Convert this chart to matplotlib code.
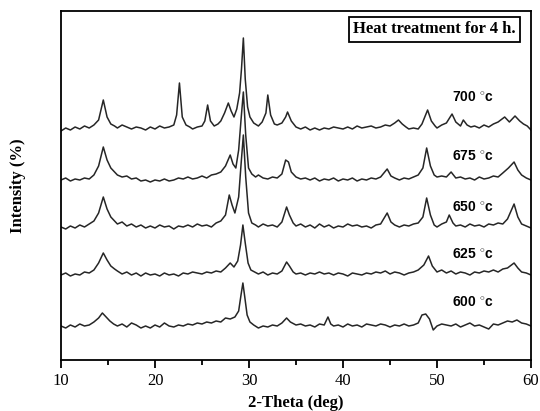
import matplotlib
matplotlib.use('Agg')
import matplotlib.pyplot as plt
from matplotlib.ticker import MultipleLocator

# 2-theta positions (deg) and intensity above each trace's own baseline (a.u.)
x_600 = [10.0, 10.5, 11.0, 11.5, 12.0, 12.5, 13.0, 13.5, 14.0, 14.4, 14.8, 15.2, 15.6, 16.0, 16.5, 17.0,
         17.5, 18.0, 18.5, 19.0, 19.5, 20.0, 20.5, 21.0, 21.5, 22.0, 22.5, 23.0, 23.5, 24.0, 24.5, 25.0,
         25.5, 26.0, 26.5, 27.0, 27.5, 28.0, 28.5, 28.9, 29.15, 29.35, 29.55, 29.8, 30.1, 30.5, 31.0,
         31.5, 32.0, 32.5, 33.0, 33.5, 34.0, 34.4, 35.0, 35.5, 36.0, 36.5, 37.0, 37.5, 38.0, 38.4, 38.7,
         39.0, 39.5, 40.0, 40.5, 41.0, 41.5, 42.0, 42.5, 43.0, 43.5, 44.0, 44.5, 45.0, 45.5, 46.0, 46.5,
         47.0, 47.5, 48.0, 48.4, 48.8, 49.2, 49.6, 50.0, 50.5, 51.0, 51.5, 52.0, 52.5, 53.0, 53.5, 54.0,
         54.5, 55.0, 55.5, 56.0, 56.5, 57.0, 57.5, 58.0, 58.5, 59.0, 59.5, 60.0]
i_600 = [1, -1, 2, 0, 3, 1, 2, 5, 9, 14, 10, 6, 3, 1, 3, 0,
         4, 2, -1, 1, -1, 2, 0, 4, 1, 0, 2, 1, 3, 2, 4, 3,
         5, 4, 6, 5, 9, 8, 10, 16, 32, 44, 30, 12, 5, 2, -1,
         1, 0, 2, 1, 4, 9, 5, 2, 3, 1, 2, 0, 3, 2, 10, 3,
         1, 2, 0, 3, 1, 2, 0, 3, 2, 1, 3, 2, 0, 2, 1, 3,
         1, 2, 4, 12, 13, 8, -3, 1, 3, 2, 1, 3, 0, 2, 4, 1,
         2, 0, -2, 3, 2, 4, 6, 5, 7, 4, 3, 1]

x_625 = [10.0, 10.5, 11.0, 11.5, 12.0, 12.5, 13.0, 13.5, 14.0, 14.5, 14.9, 15.3, 15.7, 16.0, 16.5, 17.0,
         17.5, 18.0, 18.5, 19.0, 19.5, 20.0, 20.5, 21.0, 21.5, 22.0, 22.5, 23.0, 23.5, 24.0, 24.5, 25.0,
         25.5, 26.0, 26.5, 27.0, 27.5, 28.0, 28.4, 28.8, 29.1, 29.35, 29.6, 29.9, 30.2, 30.6, 31.0, 31.5,
         32.0, 32.5, 33.0, 33.5, 34.0, 34.3, 34.7, 35.0, 35.5, 36.0, 36.5, 37.0, 37.5, 38.0, 38.5, 39.0,
         39.5, 40.0, 40.5, 41.0, 41.5, 42.0, 42.5, 43.0, 43.5, 44.0, 44.5, 45.0, 45.5, 46.0, 46.5, 47.0,
         47.5, 48.0, 48.6, 49.1, 49.5, 50.0, 50.5, 51.0, 51.5, 52.0, 52.5, 53.0, 53.5, 54.0, 54.5, 55.0,
         55.5, 56.0, 56.5, 57.0, 57.5, 58.2, 58.6, 59.0, 59.5, 60.0]
i_625 = [0, 2, -1, 1, 0, 3, 2, 5, 12, 22, 15, 9, 6, 4, 1, 3,
         0, 2, -1, 2, 0, 1, -1, 2, 0, 1, -1, 2, 1, 3, 2, 1,
         3, 2, 4, 3, 7, 12, 8, 14, 30, 50, 32, 12, 5, 3, 1, 3,
         0, 2, 1, 4, 13, 9, 3, 1, 2, 0, 2, 1, 3, 1, 2, 0,
         2, 1, -1, 2, 1, 0, 2, 1, 3, 2, 4, 1, 3, 2, 0, 2,
         3, 5, 10, 19, 9, 3, 5, 2, 4, 1, 3, 2, 0, 3, 2, 4,
         3, 5, 3, 6, 7, 12, 7, 3, 2, 0]

x_650 = [10.0, 10.5, 11.0, 11.5, 12.0, 12.5, 13.0, 13.5, 14.0, 14.5, 14.9, 15.3, 15.7, 16.0, 16.5, 17.0,
         17.5, 18.0, 18.5, 19.0, 19.5, 20.0, 20.5, 21.0, 21.5, 22.0, 22.5, 23.0, 23.5, 24.0, 24.5, 25.0,
         25.5, 26.0, 26.5, 27.0, 27.5, 27.9, 28.2, 28.5, 28.9, 29.15, 29.4, 29.65, 29.95, 30.3, 30.7, 31.0,
         31.5, 32.0, 32.5, 33.0, 33.5, 34.0, 34.3, 34.7, 35.0, 35.5, 36.0, 36.5, 37.0, 37.5, 38.0, 38.5,
         39.0, 39.5, 40.0, 40.5, 41.0, 41.5, 42.0, 42.5, 43.0, 43.5, 44.0, 44.7, 45.1, 45.5, 46.0, 46.5,
         47.0, 47.5, 48.0, 48.5, 48.9, 49.3, 49.7, 50.0, 50.5, 51.0, 51.3, 51.7, 52.0, 52.5, 53.0, 53.5,
         54.0, 54.5, 55.0, 55.5, 56.0, 56.5, 57.0, 57.5, 58.2, 58.6, 59.0, 59.5, 60.0]
i_650 = [0, -2, 1, -1, 2, 0, 3, 6, 14, 30, 18, 10, 6, 3, 5, 1,
         3, 0, 2, -1, 1, -1, 2, 0, 1, -2, 1, 0, 2, 0, 3, 1,
         2, 0, 4, 6, 12, 32, 22, 14, 30, 62, 92, 50, 14, 4, 2, 0,
         3, 1, 2, 0, 5, 20, 12, 4, 1, 3, 0, 2, -1, 3, 0, 2,
         -1, 1, 0, 3, 1, 2, 0, 1, -1, 2, 3, 14, 5, 2, 0, 2,
         1, 3, 4, 10, 29, 12, 2, 0, 3, 5, 12, 4, 1, 2, 0, 3,
         1, 2, 0, 3, 2, 4, 3, 8, 23, 10, 3, 1, -1]

x_675 = [10.0, 10.5, 11.0, 11.5, 12.0, 12.5, 13.0, 13.5, 14.0, 14.5, 14.9, 15.3, 15.7, 16.0, 16.5, 17.0,
         17.5, 18.0, 18.5, 19.0, 19.5, 20.0, 20.5, 21.0, 21.5, 22.0, 22.5, 23.0, 23.5, 24.0, 24.5, 25.0,
         25.5, 26.0, 26.5, 27.0, 27.5, 28.0, 28.3, 28.6, 28.9, 29.15, 29.4, 29.65, 29.95, 30.3, 30.7, 31.0,
         31.5, 32.0, 32.5, 33.0, 33.5, 33.9, 34.2, 34.5, 35.0, 35.5, 36.0, 36.5, 37.0, 37.5, 38.0, 38.5,
         39.0, 39.5, 40.0, 40.5, 41.0, 41.5, 42.0, 42.5, 43.0, 43.5, 44.0, 44.7, 45.1, 45.5, 46.0, 46.5,
         47.0, 47.5, 48.0, 48.5, 48.9, 49.3, 49.7, 50.0, 50.5, 51.0, 51.5, 52.0, 52.5, 53.0, 53.5, 54.0,
         54.5, 55.0, 55.5, 56.0, 56.5, 57.0, 57.6, 58.2, 58.6, 59.0, 59.5, 60.0]
i_675 = [0, 2, -1, 1, 0, 2, 1, 5, 14, 33, 20, 12, 8, 5, 3, 4,
         1, 2, -1, 0, -2, 0, -1, 1, -1, 0, 2, 1, 3, 1, 2, 4,
         2, 5, 6, 8, 14, 25, 16, 12, 30, 60, 88, 45, 12, 6, 3, 5,
         2, 1, 3, 2, 6, 20, 18, 8, 3, 1, 2, 0, 2, -1, 1, 0,
         2, -1, 1, 0, 2, -1, 1, 0, 2, 1, 3, 11, 4, 2, 0, 2,
         1, 3, 5, 12, 32, 14, 5, 3, 4, 3, 8, 2, 3, 1, 2, 0,
         3, 1, 2, 4, 3, 7, 12, 18, 10, 5, 2, 0]

x_700 = [10.0, 10.5, 11.0, 11.5, 12.0, 12.5, 13.0, 13.5, 14.0, 14.5, 14.9, 15.3, 15.7, 16.0, 16.5, 17.0,
         17.5, 18.0, 18.5, 19.0, 19.5, 20.0, 20.5, 21.0, 21.5, 22.0, 22.3, 22.6, 22.9, 23.3, 23.7, 24.0,
         24.5, 25.0, 25.3, 25.6, 25.9, 26.3, 26.7, 27.0, 27.4, 27.8, 28.1, 28.4, 28.7, 29.0, 29.2, 29.4,
         29.6, 29.85, 30.1, 30.5, 31.0, 31.4, 31.8, 32.0, 32.3, 32.7, 33.0, 33.5, 33.9, 34.1, 34.5, 35.0,
         35.5, 36.0, 36.5, 37.0, 37.5, 38.0, 38.5, 39.0, 39.5, 40.0, 40.5, 41.0, 41.5, 42.0, 42.5, 43.0,
         43.5, 44.0, 44.5, 45.0, 45.5, 45.9, 46.3, 46.7, 47.0, 47.5, 48.0, 48.4, 49.0, 49.4, 49.8, 50.0,
         50.5, 51.0, 51.6, 52.0, 52.5, 52.8, 53.2, 53.6, 54.0, 54.5, 55.0, 55.5, 56.0, 56.5, 57.2, 57.7,
         58.3, 58.8, 59.2, 59.6, 60.0]
i_700 = [-2, 1, -1, 2, 0, 3, 1, 4, 9, 29, 12, 5, 3, 1, 4, 2,
         0, 2, 1, -1, 2, 0, 3, 1, 2, 4, 14, 46, 12, 4, 2, 0,
         2, 3, 8, 24, 8, 3, 5, 8, 16, 26, 18, 12, 20, 36, 60, 91,
         50, 22, 12, 6, 3, 7, 16, 34, 14, 5, 4, 6, 12, 17, 8, 2,
         0, 2, -1, 1, -1, 1, 0, 2, 1, 0, 2, 0, 3, 1, 2, 3,
         1, 2, 4, 3, 6, 9, 5, 2, 0, 1, 0, 5, 19, 8, 3, 1,
         4, 6, 15, 7, 3, 9, 4, 2, 3, 1, 4, 2, 5, 7, 12, 7,
         13, 8, 5, 3, -1]

temps = ['600', '625', '650', '675', '700']
offsets = [33, 85, 133, 180, 231]
label_y = [57, 105, 152, 203, 262]

traces = [(x_600, i_600), (x_625, i_625), (x_650, i_650), (x_675, i_675), (x_700, i_700)]

plt.rcParams['mathtext.fontset'] = 'custom'
plt.rcParams['mathtext.rm'] = 'Liberation Sans'
plt.rcParams['mathtext.bf'] = 'Liberation Sans:bold'

fig = plt.figure(figsize=(5.4, 4.11), dpi=100)
ax = fig.add_axes([61 / 540, 1 - 360 / 411, 470 / 540, 349 / 411])

for (xs, ys), off in zip(traces, offsets):
    ax.plot(xs, [v + off for v in ys], color='#262626', lw=1.1)

for t, ly in zip(temps, label_y):
    ax.text(53.8, ly, t + r' $^{\circ}$c', ha='center', va='center', fontsize=10,
            fontweight='bold', family='Liberation Sans')

ax.text(0.794, 0.947, 'Heat treatment for 4 h.', transform=ax.transAxes, ha='center', va='center',
        fontsize=12, fontweight='bold', family='Liberation Serif',
        bbox=dict(boxstyle='square,pad=0.25', fc='white', ec='black', lw=1.3))

ax.set_xlim(10, 60)
ax.set_ylim(0, 349)
ax.set_yticks([])
ax.xaxis.set_major_locator(MultipleLocator(10))
ax.xaxis.set_minor_locator(MultipleLocator(5))
ax.tick_params(axis='x', which='major', direction='out', length=6, width=1.3, labelsize=12)
ax.tick_params(axis='x', which='minor', direction='out', length=3.5, width=1.3)
for lab in ax.get_xticklabels():
    lab.set_family('Liberation Serif')
for s in ax.spines.values():
    s.set_linewidth(1.3)

ax.set_xlabel('2-Theta (deg)', fontsize=12, fontweight='bold', family='Liberation Serif', labelpad=4)
ax.set_ylabel('Intensity (%)', fontsize=12, fontweight='bold', family='Liberation Serif', labelpad=25)

fig.savefig('out.png', dpi=100)
